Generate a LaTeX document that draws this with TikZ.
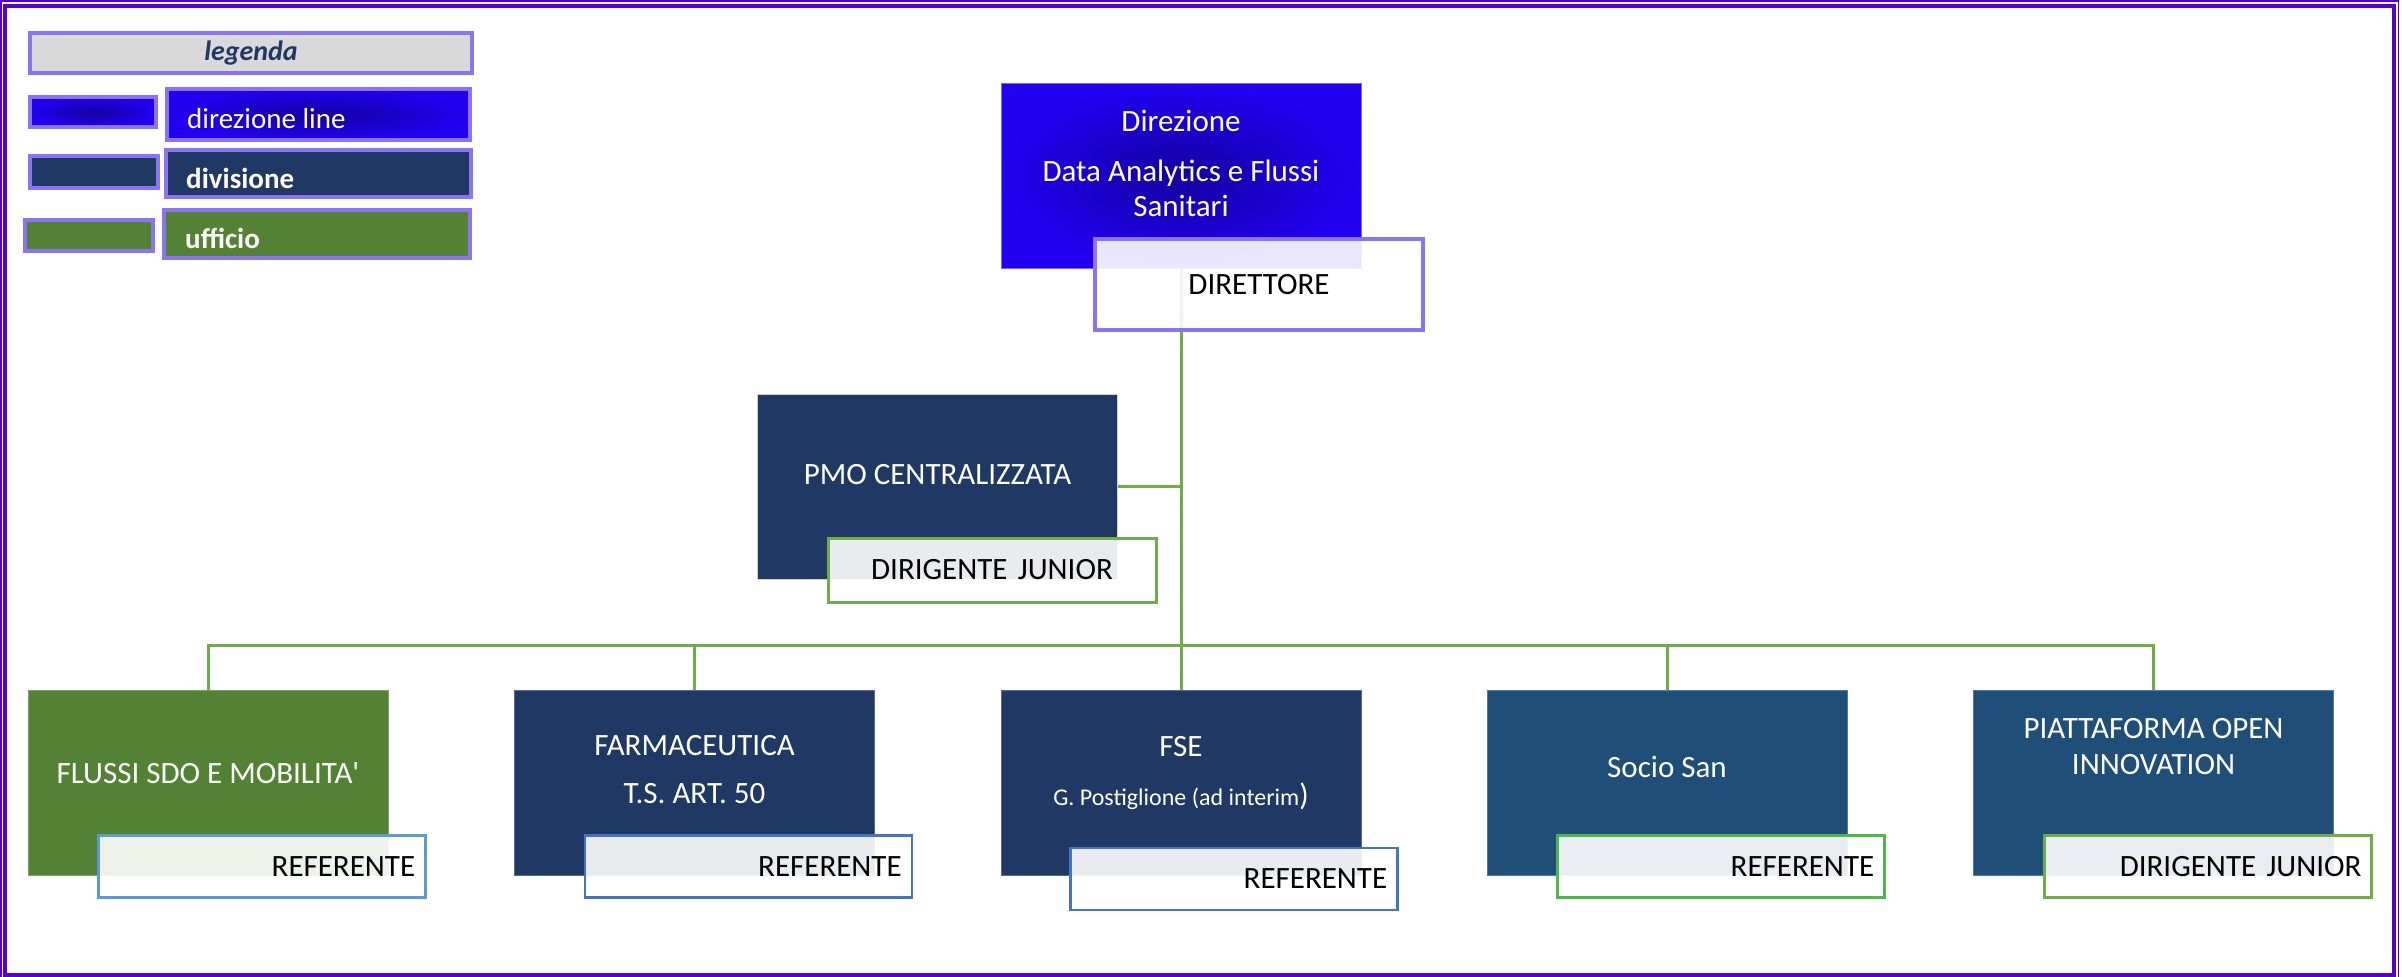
\documentclass[tikz,border=0pt]{standalone}
\usepackage{fontspec}
\setmainfont{Carlito}
\usepackage{tikz}

\definecolor{cornice}{HTML}{5800CC}
\definecolor{lavanda}{HTML}{8B73F5}
\definecolor{dirblu}{HTML}{2200F2}
\definecolor{dirscuro}{HTML}{1400A0}
\definecolor{divblu}{HTML}{203864}
\definecolor{divblu2}{HTML}{1F4E79}
\definecolor{uffverde}{HTML}{548235}
\definecolor{linea}{HTML}{70AD47}
\definecolor{azzurro}{HTML}{5B9BD5}
\definecolor{bluref}{HTML}{4472C4}
\definecolor{verderef}{HTML}{4CB84C}
\definecolor{grigioleg}{HTML}{D9D9D9}
\definecolor{titololeg}{HTML}{1F3864}

\begin{document}
\begin{tikzpicture}[x=1pt, y=-1pt,
      box/.style={rectangle, minimum width=360pt, minimum height=185pt, inner sep=0pt, line width=1pt},
      dirbox/.style={box, draw=dirblu!60!white, shading=radial, inner color=dirscuro, outer color=dirblu},
      divbox/.style={box, fill=#1, draw=#1!75!white},
      uffbox/.style={box, fill=uffverde, draw=uffverde!75!white},
      boxtxt/.style={text=white, align=center, inner sep=0pt, font=\fontsize{31}{37}\selectfont},
      role/.style={rectangle, draw=#1, line width=2.5pt, fill=white, fill opacity=0.9, text opacity=1,
        minimum height=62pt, text width=307pt, inner xsep=10pt, inner ysep=0pt, align=right,
        font=\fontsize{31}{37}\selectfont},
      conn/.style={draw=linea, line width=3pt},
      legbox/.style={rectangle, draw=lavanda, line width=4pt, inner sep=0pt},
      legtxt/.style={text=white, anchor=base west, inner sep=0pt, font=\fontsize{29}{34}\selectfont}]
      \useasboundingbox (0,0) rectangle (2402,977);
      % cornice
      \draw[cornice, line width=1.2pt] (1,977) -- (1,1) -- (2398.5,1) -- (2398.5,977);
      \fill[white] (2.5,3.5) rectangle (2396,977);
      \draw[cornice, line width=4pt] (4.5,5.5) rectangle (2394,974.5);
      % legenda
      \node[legbox, fill=grigioleg, minimum width=442pt, minimum height=40pt, text=titololeg,
        font=\fontsize{28}{34}\selectfont\bfseries\itshape] (legenda) at (251,53) {legenda};
      \node[legbox, minimum width=126pt, minimum height=30pt, shading=radial, inner color=dirscuro, outer color=dirblu] (leg-dir) at (93,112) {};
      \node[legbox, minimum width=303pt, minimum height=51pt, shading=radial, inner color=dirscuro, outer color=dirblu] (leg-dir-l) at (318.5,114.5) {};
      \node[legtxt] (leg-dir-t) at (187,128) {direzione line};
      \node[legbox, fill=divblu, minimum width=128pt, minimum height=32pt] (leg-div) at (94,172) {};
      \node[legbox, fill=divblu, minimum width=305pt, minimum height=47pt] (leg-div-l) at (318.5,173.5) {};
      \node[legtxt, font=\fontsize{29}{34}\selectfont\bfseries] (leg-div-t) at (186,188) {divisione};
      \node[legbox, fill=uffverde, minimum width=128pt, minimum height=31pt] (leg-uff) at (89,235.5) {};
      \node[legbox, fill=uffverde, minimum width=306pt, minimum height=48pt] (leg-uff-l) at (317,234) {};
      \node[legtxt, font=\fontsize{29}{34}\selectfont\bfseries] (leg-uff-t) at (185,248) {ufficio};
      % strutture
      \node[dirbox] (direz) at (1181,175.5) {};
      \node[divbox=divblu, draw=gray!35] (pmo) at (937.5,486.5) {};
      \node[uffbox] (flussi) at (208,782.5) {};
      \node[divbox=divblu] (farma) at (694.5,782.5) {};
      \node[divbox=divblu] (fse) at (1181,782.5) {};
      \node[divbox=divblu2] (socio) at (1667,782.5) {};
      \node[divbox=divblu2] (piatta) at (2153.5,782.5) {};
      \node[boxtxt] (direz-t) at (1181,163.5) {Direzione\\[13pt]Data Analytics e Flussi\\[-2pt]Sanitari};
      \node[boxtxt] (pmo-t) at (937.5,474.5) {PMO CENTRALIZZATA};
      \node[boxtxt] (flussi-t) at (208,773.5) {FLUSSI SDO E MOBILITA\textquotesingle};
      \node[boxtxt] (farma-t) at (694.5,770) {FARMACEUTICA\\[11pt]T.S. ART. 50};
      \node[boxtxt] (fse-t) at (1181,773.5) {FSE\\[12pt]{\fontsize{24}{29}\selectfont G. Postiglione (ad interim}{)}};
      \node[boxtxt] (socio-t) at (1667,767) {Socio San};
      \node[boxtxt] (piatta-t) at (2153.5,747) {PIATTAFORMA OPEN\\[-1pt]INNOVATION};
      % collegamenti
      \coordinate (bus) at (1181,645);
      \draw[conn] (direz.south) -- (fse.north);
      \draw[conn] (pmo.east) -- (pmo.east -| direz.south);
      \draw[conn] (flussi.north) |- (bus) -| (piatta.north);
      \draw[conn] (farma.north) -- (farma.north |- bus);
      \draw[conn] (socio.north) -- (socio.north |- bus);
      % ruoli
      \node[role=lavanda, line width=4pt, minimum height=91pt, text width=308pt, align=center] (direttore) at (1259,284.5) {DIRETTORE};
      \node[role=linea, line width=3pt, minimum height=64pt, text width=308pt, align=center] (pmo-r) at (992,570) {DIRIGENTE JUNIOR};
      \node[role=azzurro, anchor=east] (flussi-r) at ([shift={(38,-9)}]flussi.south east) {REFERENTE};
      \node[role=bluref, anchor=east] (farma-r) at ([shift={(38,-9)}]farma.south east) {REFERENTE};
      \node[role=bluref, anchor=east] (fse-r) at ([shift={(37,3.5)}]fse.south east) {REFERENTE};
      \node[role=verderef, anchor=east] (socio-r) at ([shift={(38,-9)}]socio.south east) {REFERENTE};
      \node[role=linea, line width=3pt, anchor=east] (piatta-r) at ([shift={(39,-9)}]piatta.south east) {DIRIGENTE JUNIOR};
    \end{tikzpicture}
\end{document}
